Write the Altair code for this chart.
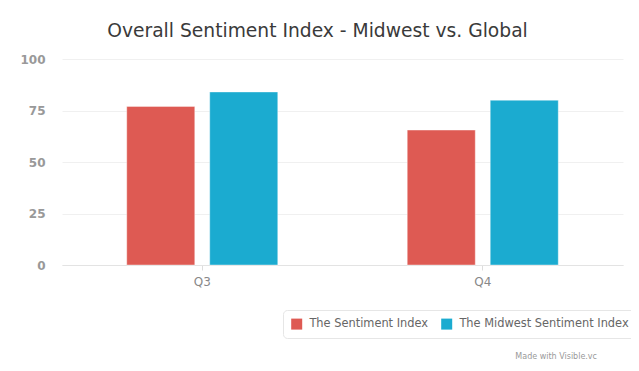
import altair as alt
import pandas as pd

quarters = ["Q3", "Q4"]
series = ["The Sentiment Index", "The Midwest Sentiment Index"]
sentiment_values = [77, 65.5]
midwest_values = [84, 80]
colors = ["#DE5A53", "#1BABD0"]
y_ticks = [0, 25, 50, 75, 100]

rows = []
for q, a, b in zip(quarters, sentiment_values, midwest_values):
    rows.append({"quarter": q, "series": series[0], "value": a})
    rows.append({"quarter": q, "series": series[1], "value": b})
df = pd.DataFrame(rows)

FONT = "DejaVu Sans"

bars = alt.Chart(df).mark_bar(stroke="white", strokeOpacity=0.4, strokeWidth=1).encode(
    x=alt.X("quarter:N", sort=quarters, title=None,
            scale=alt.Scale(paddingInner=0, paddingOuter=0),
            axis=alt.Axis(labelAngle=0, labelFont=FONT, labelFontSize=12,
                          labelColor="#888888", labelPadding=6,
                          tickColor="#dddddd", tickSize=5,
                          domainColor="#e3e3e3", grid=False)),
    xOffset=alt.XOffset("series:N", sort=series,
                        scale=alt.Scale(paddingInner=0.18, paddingOuter=0.78)),
    y=alt.Y("value:Q", title=None,
            scale=alt.Scale(domain=[0, 100]),
            axis=alt.Axis(values=y_ticks, labelFont=FONT, labelFontSize=12,
                          labelFontWeight="bold", labelColor="#999999",
                          labelPadding=17, tickSize=0, domain=False,
                          gridColor="#f0f0f0")),
    color=alt.Color("series:N", sort=series,
                    scale=alt.Scale(domain=series, range=colors),
                    legend=alt.Legend(title=None, orient="none", direction="horizontal",
                                      legendX=221, legendY=251,
                                      symbolType="square", symbolSize=121,
                                      symbolStrokeWidth=0,
                                      labelFont=FONT, labelFontSize=11.4,
                                      labelColor="#666666", labelOffset=7,
                                      labelLimit=300,
                                      columnPadding=12,
                                      padding=8, strokeColor="#e6e6e6",
                                      cornerRadius=4)),
)

watermark = alt.Chart(pd.DataFrame({"t": ["Made with Visible.vc"]})).mark_text(
    font=FONT, fontSize=8, color="#999999", align="right", baseline="middle"
).encode(text="t:N", x=alt.value(535), y=alt.value(298))

chart = (bars + watermark).properties(
    width=561, height=206,
    title=alt.TitleParams("Overall Sentiment Index - Midwest vs. Global",
                          font=FONT, fontSize=18.7, fontWeight="normal",
                          color="#3a3a3a", anchor="middle", dx=-25, offset=12),
    padding={"left": 54, "top": 51, "right": 8, "bottom": 100},
    autosize=alt.AutoSizeParams(type="none"),
).configure_view(stroke=None)

chart.save("out.html", embed_options={"renderer": "svg", "actions": False})
